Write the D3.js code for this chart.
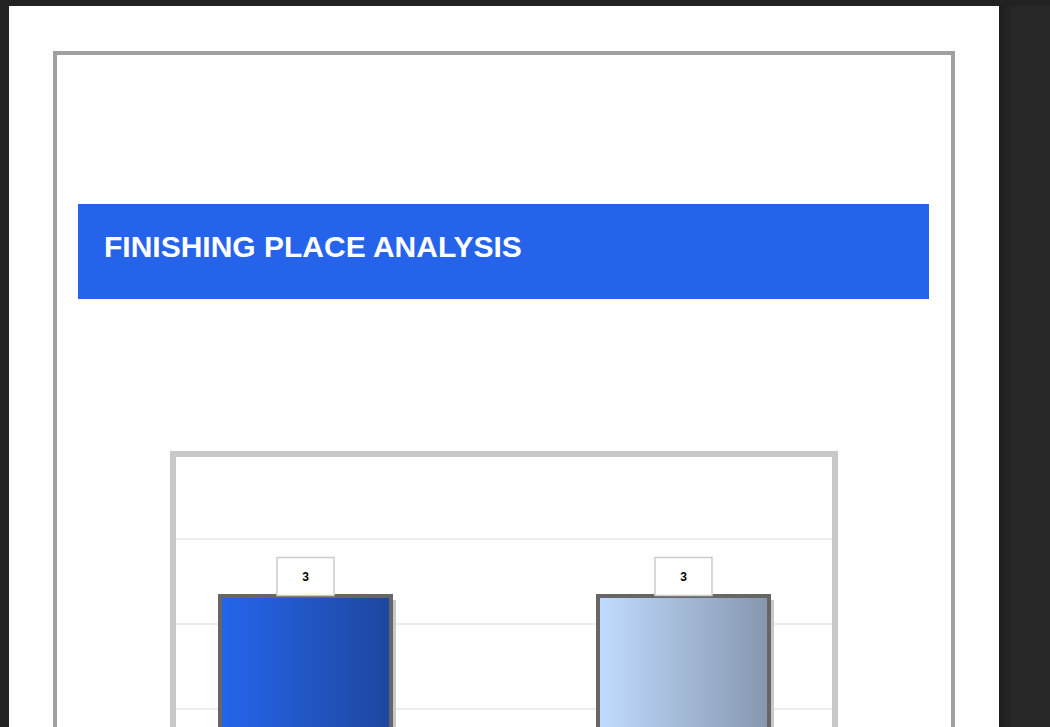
<!DOCTYPE html>
<html>
<head>
<meta charset="utf-8">
<script src="https://cdn.jsdelivr.net/npm/d3@7"></script>
<style>
  html, body { margin: 0; padding: 0; background: #282828; overflow: hidden; }
  svg { display: block; }
</style>
</head>
<body>
<svg id="chart" width="1050" height="727"></svg>
<script>
const title = "FINISHING PLACE ANALYSIS";
const categories = ["1st", "2nd"];
const values = [3, 3];
const yDomain = [0, 4];

const svg = d3.select("#chart");
const defs = svg.append("defs");

// page shadow
const sh = defs.append("linearGradient").attr("id", "pageShadow");
sh.append("stop").attr("offset", "0%").attr("stop-color", "#1c1c1c");
sh.append("stop").attr("offset", "100%").attr("stop-color", "#282828");
svg.append("rect").attr("x", 0).attr("y", 0).attr("width", 9).attr("height", 727).attr("fill", "#222");
svg.append("rect").attr("x", 999).attr("y", 0).attr("width", 14).attr("height", 727).attr("fill", "url(#pageShadow)");
svg.append("rect").attr("x", 0).attr("y", 0).attr("width", 1050).attr("height", 6).attr("fill", "#222");

// page
svg.append("rect").attr("x", 9).attr("y", 6).attr("width", 990).attr("height", 760).attr("fill", "#ffffff");

// outer border
svg.append("rect").attr("x", 55).attr("y", 53).attr("width", 898).attr("height", 760)
  .attr("fill", "none").attr("stroke", "#a0a0a0").attr("stroke-width", 4);

// banner
svg.append("rect").attr("x", 78).attr("y", 204).attr("width", 851).attr("height", 95).attr("fill", "#2563eb");
svg.append("text").attr("x", 104).attr("y", 256.5)
  .attr("font-family", "'Liberation Sans', Arial, sans-serif")
  .attr("font-weight", "bold").attr("font-size", 30).attr("fill", "#ffffff")
  .text(title);

// chart box
svg.append("rect").attr("x", 173).attr("y", 454).attr("width", 662).attr("height", 400)
  .attr("fill", "#ffffff").attr("stroke", "#c8c8c8").attr("stroke-width", 6);

const plot = { left: 176, right: 832, top: 457 };

// gridlines
const gridYs = d3.range(539, 740, 85);
svg.append("g").selectAll("line").data(gridYs).join("line")
  .attr("x1", plot.left).attr("x2", plot.right)
  .attr("y1", d => d).attr("y2", d => d)
  .attr("stroke", "#e6e6e6").attr("stroke-width", 1.5);

// scales
const x = d3.scaleBand().domain(categories).range([176, 813])
  .paddingInner(0.5476).paddingOuter(0.1164);
const y = d3.scaleLinear().domain(yDomain).range([851, 511]);

// gradients
const grads = [
  { id: "g0", from: "#2565ec", to: "#1d479f" },
  { id: "g1", from: "#c1dcff", to: "#8597ae" }
];
grads.forEach(g => {
  const lg = defs.append("linearGradient").attr("id", g.id).attr("x1", "0%").attr("x2", "100%");
  lg.append("stop").attr("offset", "0%").attr("stop-color", g.from);
  lg.append("stop").attr("offset", "100%").attr("stop-color", g.to);
});

const data = categories.map((c, i) => ({ c, v: values[i], i }));
const bw = x.bandwidth();

// shadows
svg.append("g").selectAll("rect").data(data).join("rect")
  .attr("x", d => x(d.c) + 4).attr("y", d => y(d.v) + 4)
  .attr("width", bw + 1).attr("height", d => y(0) - y(d.v))
  .attr("fill", "#c8c8c8");

// bars
svg.append("g").selectAll("rect").data(data).join("rect")
  .attr("x", d => x(d.c)).attr("y", d => y(d.v))
  .attr("width", bw).attr("height", d => y(0) - y(d.v))
  .attr("fill", d => `url(#g${d.i})`)
  .attr("stroke", "#666666").attr("stroke-width", 4);

// value labels
const lab = svg.append("g").selectAll("g").data(data).join("g")
  .attr("transform", d => `translate(${x(d.c) + bw / 2},${y(d.v)})`);
lab.append("rect").attr("x", -28.5).attr("y", -38.5).attr("width", 57).attr("height", 38)
  .attr("fill", "#ffffff").attr("stroke", "#cccccc").attr("stroke-width", 1.5);
lab.append("text").attr("x", 0).attr("y", -19.5)
  .attr("text-anchor", "middle").attr("dominant-baseline", "central")
  .attr("font-family", "'Liberation Sans', Arial, sans-serif")
  .attr("font-weight", "bold").attr("font-size", 12).attr("fill", "#000")
  .text(d => d.v);
</script>
</body>
</html>
